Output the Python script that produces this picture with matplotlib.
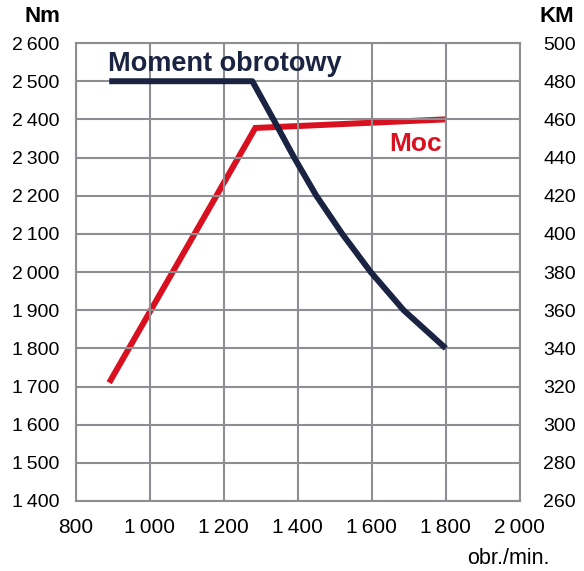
import numpy as np
import matplotlib
matplotlib.use('Agg')
import matplotlib.pyplot as plt

plt.rcParams['font.family'] = ['Liberation Sans', 'DejaVu Sans']

# Data
torque_rpm = [890, 1277, 1334, 1390, 1450, 1520, 1597, 1686, 1800]
torque_nm = [2500, 2500, 2400, 2300, 2200, 2100, 2000, 1900, 1800]
power_rpm = [890, 1285, 1800]
power_km = [322, 455.5, 460]

x_ticks = [800, 1000, 1200, 1400, 1600, 1800, 2000]
nm_ticks = list(range(1400, 2700, 100))
km_ticks = list(range(260, 520, 20))

navy = '#1b2342'
red = '#d9101f'
grid_gray = '#8c8e91'


def fmt(v):
    return f"{v:,}".replace(',', '\u2009')


fig = plt.figure(figsize=(5.84, 5.71), dpi=100)
ax = fig.add_axes([0.130, 0.1226, 0.760, 0.802])
ax.set_xlim(800, 2000)
ax.set_ylim(1400, 2600)

ax.set_xticks(x_ticks)
ax.set_xticklabels([fmt(v) for v in x_ticks])
ax.set_yticks(nm_ticks)
ax.set_yticklabels([fmt(v) for v in nm_ticks])
ax.grid(True, color=grid_gray, linewidth=1.5)
ax.set_axisbelow(True)
for sp in ax.spines.values():
    sp.set_color(grid_gray)
    sp.set_linewidth(1.5)
ax.tick_params(axis='y', length=0, labelsize=14, pad=12)
ax.tick_params(axis='x', length=0, labelsize=15, pad=12)

ax2 = ax.twinx()
ax2.set_ylim(260, 500)
ax2.set_yticks(km_ticks)
ax2.set_yticklabels([str(v) for v in km_ticks])
ax2.tick_params(length=0, labelsize=14, pad=17)
for sp in ax2.spines.values():
    sp.set_visible(False)

ax2.plot(power_rpm, power_km, color=red, linewidth=4.3, solid_capstyle='butt',
         solid_joinstyle='miter', zorder=3)
ax.plot(torque_rpm, torque_nm, color=navy, linewidth=4.3, solid_capstyle='butt',
        solid_joinstyle='round', zorder=4)
ax.set_zorder(ax2.get_zorder() + 1)
ax.patch.set_visible(False)

ax.text(888, 2545, 'Moment obrotowy', color=navy, fontsize=19.5, fontweight='bold',
        va='center', ha='left')
ax.text(1790, 2335, 'Moc', color=red, fontsize=19, fontweight='bold',
        va='center', ha='right', zorder=5)

fig.text(42 / 584, 1 - 17 / 571, 'Nm', fontsize=16, fontweight='bold',
         ha='center', va='center')
fig.text(557 / 584, 1 - 17 / 571, 'KM', fontsize=16, fontweight='bold',
         ha='center', va='center')
fig.text(550 / 584, 1 - 559 / 571, 'obr./min.', fontsize=15.5,
         ha='right', va='center')

fig.savefig('out.png', dpi=100)
